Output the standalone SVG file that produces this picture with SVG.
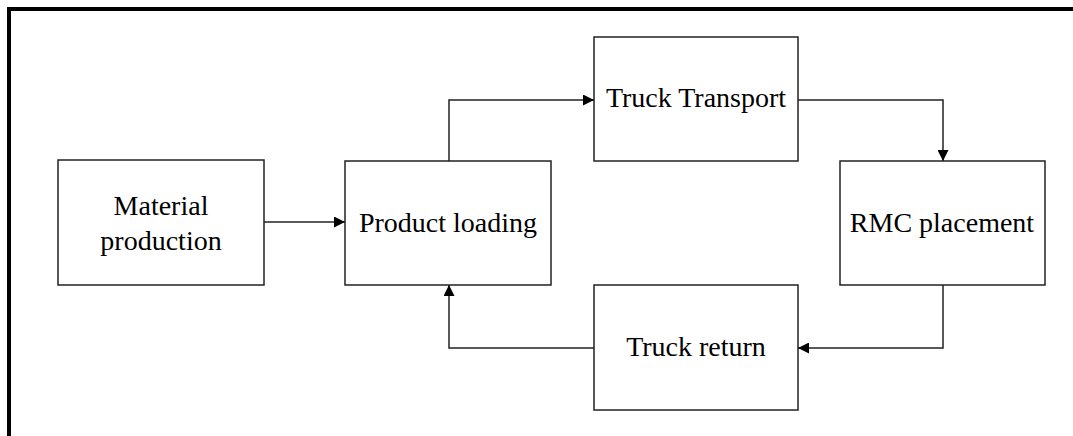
<svg xmlns="http://www.w3.org/2000/svg" width="1073" height="436" viewBox="0 0 1073 436">
<defs>
<style>
.box{fill:#fff;stroke:#222;stroke-width:1.5}
.lbl{font-family:"Liberation Serif","Times New Roman",serif;font-size:28px;fill:#000;text-anchor:middle}
.con{fill:none;stroke:#222;stroke-width:1.5}
</style>
<marker id="ah" viewBox="0 0 10 10" refX="10" refY="5" markerWidth="11" markerHeight="11" markerUnits="userSpaceOnUse" orient="auto">
<path d="M0,0 L10,5 L0,10 z" fill="#000"/>
</marker>
</defs>
<rect width="1073" height="436" fill="#fff"/>
<path d="M9,436 V9 H1073" fill="none" stroke="#000" stroke-width="4"/>
<g id="material-production">
<rect class="box" x="58" y="160" width="206" height="125"/>
<text class="lbl" x="161" y="215">Material</text>
<text class="lbl" x="161" y="250">production</text>
</g>
<g id="product-loading">
<rect class="box" x="345" y="161" width="206" height="124"/>
<text class="lbl" x="448" y="232">Product loading</text>
</g>
<g id="truck-transport">
<rect class="box" x="594" y="37" width="204" height="124"/>
<text class="lbl" x="696" y="107">Truck Transport</text>
</g>
<g id="rmc-placement">
<rect class="box" x="840" y="161" width="205" height="124"/>
<text class="lbl" x="942" y="232">RMC placement</text>
</g>
<g id="truck-return">
<rect class="box" x="594" y="285" width="204" height="125"/>
<text class="lbl" x="696" y="356">Truck return</text>
</g>
<g id="connectors">
<path class="con" d="M264,222 H345" marker-end="url(#ah)"/>
<path class="con" d="M449,161 V100 H594" marker-end="url(#ah)"/>
<path class="con" d="M798,100 H943 V161" marker-end="url(#ah)"/>
<path class="con" d="M943,285 V348 H798" marker-end="url(#ah)"/>
<path class="con" d="M594,348 H449 V285" marker-end="url(#ah)"/>
</g>
</svg>
